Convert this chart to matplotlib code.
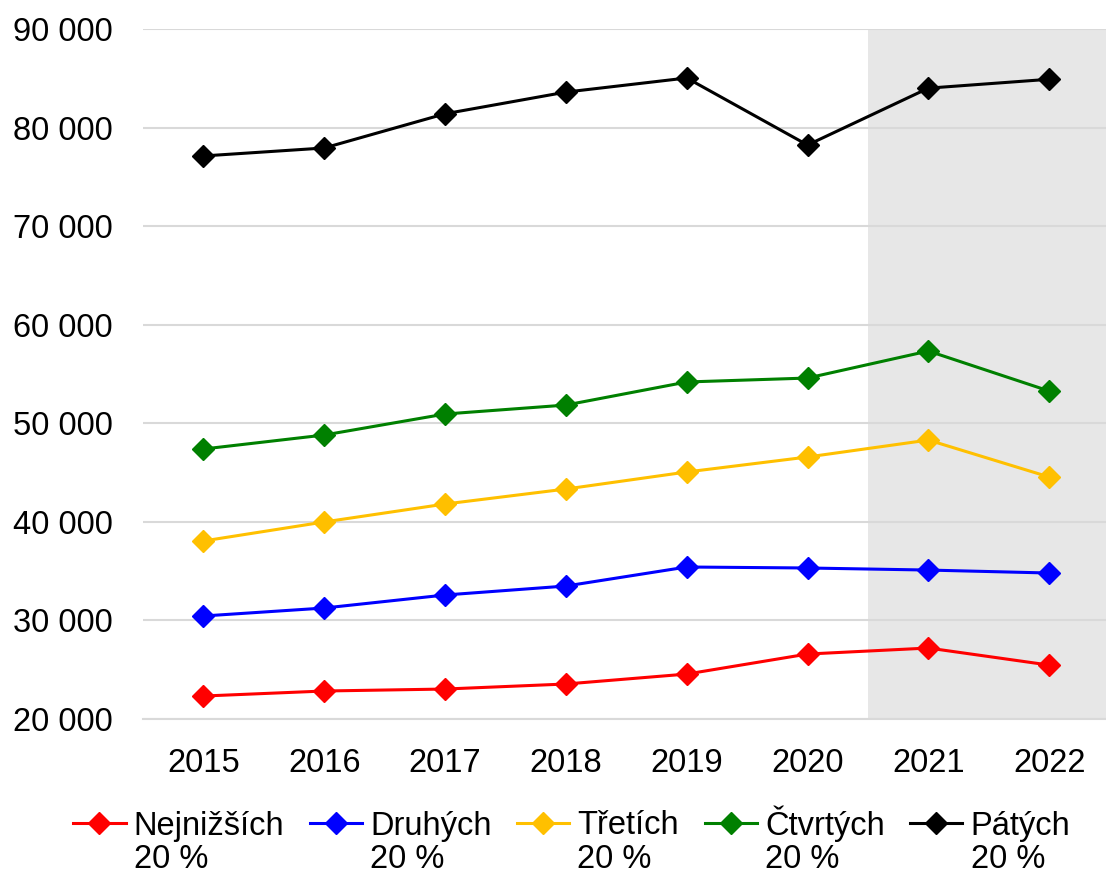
import matplotlib
matplotlib.use("Agg")
import matplotlib.pyplot as plt
from matplotlib.ticker import FuncFormatter

plt.rcParams['font.family'] = ['Liberation Sans', 'DejaVu Sans']

years = ["2015", "2016", "2017", "2018", "2019", "2020", "2021", "2022"]
nejnizsich = [22330, 22840, 23040, 23550, 24560, 26590, 27200, 25470]
druhych = [30450, 31260, 32580, 33490, 35420, 35320, 35110, 34810]
tretich = [38060, 39990, 41810, 43330, 45060, 46580, 48300, 44550]
ctvrtych = [47390, 48810, 50940, 51850, 54190, 54590, 57330, 53270]
patych = [77120, 77930, 81400, 83600, 85030, 78230, 84000, 84900]

names = ["Nejnižších", "Druhých", "Třetích", "Čtvrtých", "Pátých"]
second_line = "20 %"
series = [nejnizsich, druhych, tretich, ctvrtych, patych]
colors = ["#FF0000", "#0000FF", "#FFC000", "#008000", "#000000"]

fs = 23.5
fig = plt.figure(figsize=(11.06, 8.77), dpi=100)
ax = fig.add_axes([143 / 1106, 1 - 719 / 877, 1 - 143 / 1106, (719 - 29) / 877])

x = list(range(len(years)))
ax.axvspan(5.5, 7.6, color="#E7E7E7", lw=0, zorder=0)
for name, vals, c in zip(names, series, colors):
    ax.plot(x, vals, color=c, lw=2.2, marker="D", ms=11, label=name, zorder=3)

ax.set_xlim(-0.5, 7.47)
ax.set_ylim(20000, 90000)
ax.set_yticks(range(20000, 90001, 10000))
ax.yaxis.set_major_formatter(FuncFormatter(lambda v, p: f"{int(v):,}".replace(",", " ")))
ax.set_xticks(x)
ax.set_xticklabels(years)
ax.tick_params(axis="both", length=0, labelsize=fs)
ax.tick_params(axis="y", pad=22)
ax.tick_params(axis="x", pad=21)
ax.grid(axis="y", color="#D9D9D9", lw=1.5, zorder=1)
ax.set_axisbelow(True)
for s in ["left", "right", "top"]:
    ax.spines[s].set_visible(False)
ax.spines["bottom"].set_color("#D9D9D9")
ax.spines["bottom"].set_linewidth(1.5)

leg = fig.legend(loc="upper center", bbox_to_anchor=(0.517, 1 - 805 / 877), ncol=5,
                 frameon=False, fontsize=fs, handlelength=1.6, handletextpad=0.25,
                 columnspacing=0.78, borderpad=0, borderaxespad=0)

# second line of each legend label, placed under the first one
fig.canvas.draw()
inv = fig.transFigure.inverted()
for t in leg.get_texts():
    bb = t.get_window_extent()
    x0, y0 = inv.transform((bb.x0, bb.y0))
    fig.text(x0, y0 - 3 / 877, second_line, fontsize=fs, va="top", ha="left")

fig.savefig("out.png", dpi=100)
